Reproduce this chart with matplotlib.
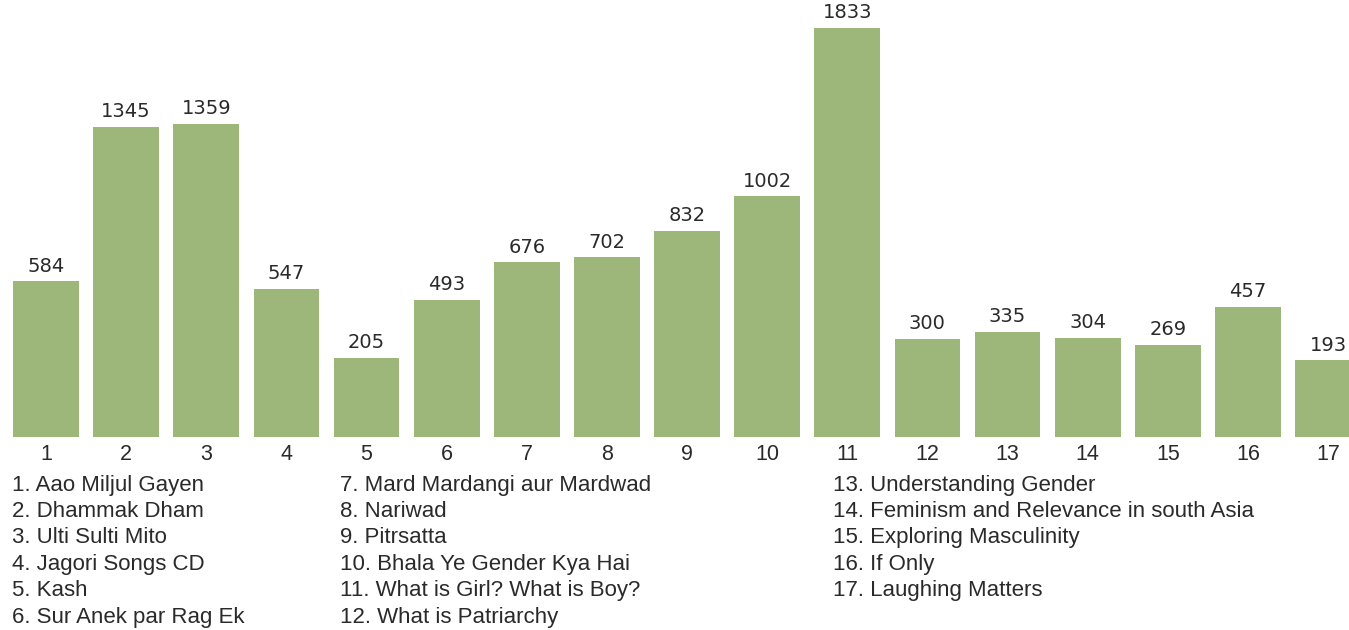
import numpy as np
import matplotlib
matplotlib.use('Agg')
import matplotlib.pyplot as plt

#############################################################
# data
ITEMS = [str(i) for i in range(1, 18)]
VIEWS = [584, 1345, 1359, 547, 205, 493, 676, 702, 832, 1002,
         1833, 300, 335, 304, 269, 457, 193]
TITLES = ['Aao Miljul Gayen', 'Dhammak Dham', 'Ulti Sulti Mito',
          'Jagori Songs CD', 'Kash', 'Sur Anek par Rag Ek',
          'Mard Mardangi aur Mardwad', 'Nariwad', 'Pitrsatta',
          'Bhala Ye Gender Kya Hai', 'What is Girl? What is Boy?',
          'What is Patriarchy',
          'Understanding Gender', 'Feminism and Relevance in south Asia',
          'Exploring Masculinity', 'If Only', 'Laughing Matters']

#############################################################
W, H = 1349, 630
BAR_COLOR = '#9db67a'
TXT = '#2a2a2a'
BASE = -185          # the original bars do not start at zero
plt.rcParams['font.family'] = ['Liberation Sans', 'DejaVu Sans']

fig = plt.figure(figsize=(W/100, H/100), dpi=100)
ax = fig.add_axes([0, 193/H, 1, 437/H])

x = np.arange(1, len(VIEWS)+1)
vals = np.array(VIEWS)
ax.bar(x, vals - BASE, bottom=BASE, width=0.82, color=BAR_COLOR)
for xi, v in zip(x, vals):
    ax.annotate(str(v), (xi, v), xytext=(0, 4), textcoords='offset points',
                ha='center', va='bottom', fontsize=14, color=TXT,
                family='DejaVu Sans', clip_on=False)

ax.set_xlim(1 - 46/80.13, 1 + (W-46)/80.13)
ax.set_ylim(BASE, BASE + 437/0.2027)
ax.set_xticks(x, ITEMS)
ax.tick_params(axis='x', length=0, pad=5, labelsize=15.5, labelcolor=TXT)
ax.set_yticks([])
for s in ax.spines.values():
    s.set_visible(False)

# numbered key under the bars, three columns
cols = [(12, 0, 6), (340, 6, 12), (833, 12, 17)]
for px, i0, i1 in cols:
    for k, i in enumerate(range(i0, i1)):
        py = 485 + k*26.4
        fig.text(px/W, 1 - py/H, f'{i+1}. {TITLES[i]}', ha='left',
                 va='center', fontsize=16, color=TXT)

fig.savefig('out.png', dpi=100)
